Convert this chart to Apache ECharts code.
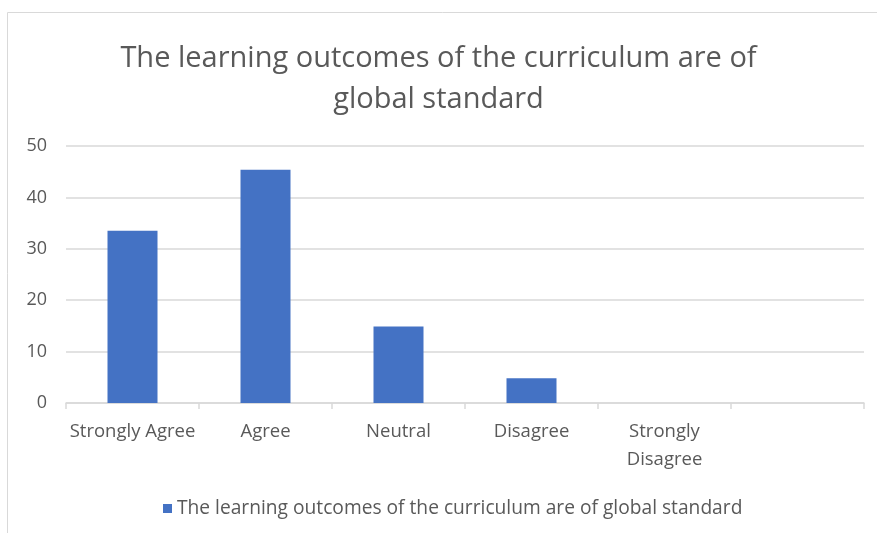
<!DOCTYPE html>
<html><head><meta charset="utf-8">
<script src="https://cdn.jsdelivr.net/npm/echarts@6/dist/echarts.min.js"></script>
<style>html,body{margin:0;padding:0;background:#fff}#c{width:877px;height:533px}</style>
</head><body><div id="c"></div>
<script>
const titleText = "The learning outcomes of the curriculum are of\nglobal standard";
const seriesName = "The learning outcomes of the curriculum are of global standard";
const categories = ["Strongly Agree", "Agree", "Neutral", "Disagree", "Strongly\nDisagree", ""];
const values = [33.5, 45.4, 14.9, 4.8, 0, null];
const yTicks = {min: 0, max: 50, interval: 10};

const FONT = "Open Sans";
const chart = echarts.init(document.getElementById('c'));
chart.setOption({
  animation: false,
  graphic: [{type: 'rect', shape: {x: 7.5, y: 12.5, width: 900, height: 600}, style: {fill: 'none', stroke: '#d9d9d9', lineWidth: 1}}],
  title: {text: titleText, left: 'center', top: 33,
    textStyle: {fontFamily: FONT, fontSize: 29, fontWeight: 'normal', color: '#595959', lineHeight: 41}},
  legend: {bottom: 10, left: 158, itemWidth: 9, itemHeight: 9, icon: 'rect', itemGap: 10,
    textStyle: {fontFamily: FONT, fontSize: 19.2, color: '#595959'}},
  grid: {left: 66, right: 13, top: 146, bottom: 130, containLabel: false},
  xAxis: {type: 'category', data: categories, boundaryGap: true,
    axisLine: {lineStyle: {color: '#d9d9d9', width: 1.5}},
    axisTick: {show: true, length: 6, alignWithLabel: false, lineStyle: {color: '#d9d9d9', width: 1.5}},
    axisLabel: {interval: 0, fontFamily: FONT, fontSize: 18.5, color: '#595959', margin: 15, lineHeight: 28}},
  yAxis: {type: 'value', min: yTicks.min, max: yTicks.max, interval: yTicks.interval,
    axisLine: {show: false}, axisTick: {show: false},
    splitLine: {lineStyle: {color: '#d9d9d9', width: 1.5}},
    axisLabel: {fontFamily: FONT, fontSize: 18, color: '#595959', margin: 19}},
  series: [{name: seriesName, type: 'bar', data: values, barWidth: 50,
    itemStyle: {color: '#4472c4'}}]
});
</script></body></html>
